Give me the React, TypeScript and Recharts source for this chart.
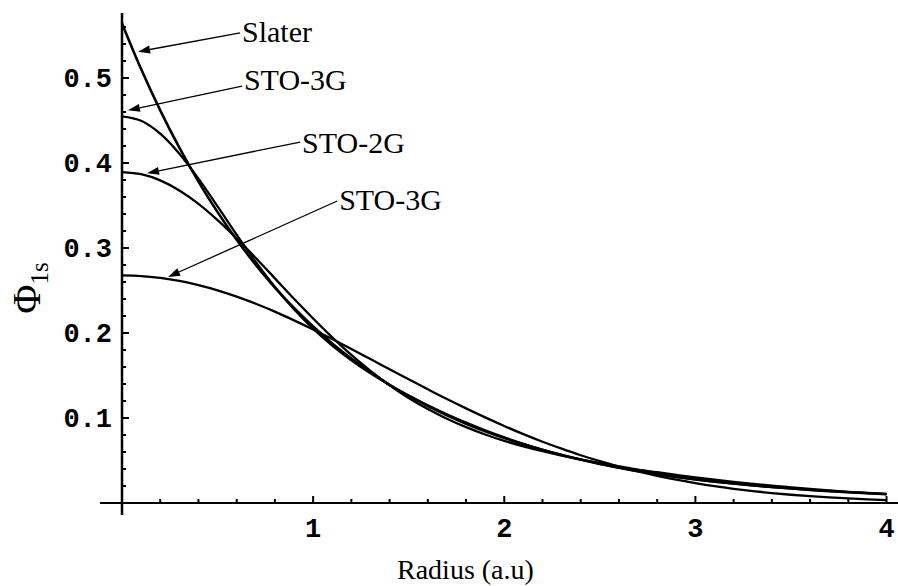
import { LineChart, Line, XAxis, YAxis, ReferenceLine, ReferenceDot } from "recharts"

// radius in a.u., 0.1 step
const radius = [
  0, 0.1, 0.2, 0.3, 0.4, 0.5, 0.6, 0.7, 0.8, 0.9, 1.0, 1.1, 1.2, 1.3, 1.4, 1.5, 1.6, 1.7, 1.8, 1.9, 2.0,
  2.1, 2.2, 2.3, 2.4, 2.5, 2.6, 2.7, 2.8, 2.9, 3.0, 3.1, 3.2, 3.3, 3.4, 3.5, 3.6, 3.7, 3.8, 3.9, 4.0,
]

const slater = [
  0.5642, 0.5105, 0.4619, 0.418, 0.3782, 0.3422, 0.3096, 0.2802, 0.2535, 0.2294, 0.2076, 0.1878, 0.1699,
  0.1538, 0.1391, 0.1259, 0.1139, 0.1031, 0.0933, 0.0844, 0.0764, 0.0691, 0.0625, 0.0566, 0.0512, 0.0463,
  0.0419, 0.0379, 0.0343, 0.031, 0.0281, 0.0254, 0.023, 0.0208, 0.0188, 0.017, 0.0154, 0.0139, 0.0126,
  0.0114, 0.0103,
]

const sto3g = [
  0.455, 0.4497, 0.4345, 0.411, 0.3816, 0.349, 0.3157, 0.2836, 0.2542, 0.228, 0.2051, 0.1852, 0.1679,
  0.1526, 0.1389, 0.1264, 0.115, 0.1044, 0.0946, 0.0856, 0.0773, 0.0697, 0.0628, 0.0565, 0.0509, 0.0458,
  0.0413, 0.0372, 0.0336, 0.0304, 0.0275, 0.025, 0.0227, 0.0206, 0.0188, 0.0171, 0.0156, 0.0142, 0.0129,
  0.0118, 0.0107,
]

const sto2g = [
  0.3894, 0.3869, 0.3796, 0.3677, 0.352, 0.3329, 0.3114, 0.2882, 0.2643, 0.2403, 0.2171, 0.1949, 0.1742,
  0.1554, 0.1386, 0.1236, 0.1105, 0.0991, 0.0892, 0.0806, 0.0731, 0.0667, 0.0609, 0.0557, 0.0511, 0.0469,
  0.0431, 0.0394, 0.0362, 0.0331, 0.0301, 0.0274, 0.0249, 0.0226, 0.0204, 0.0184, 0.0165, 0.0148, 0.0132,
  0.0117, 0.0104,
]

// the lowest curve (labelled "STO-3G" again in the figure)
const sto1g = [
  0.2677, 0.267, 0.2648, 0.2613, 0.2563, 0.2502, 0.2428, 0.2344, 0.2251, 0.2149, 0.2042, 0.1929, 0.1812,
  0.1693, 0.1574, 0.1455, 0.1338, 0.1223, 0.1113, 0.1007, 0.0906, 0.081, 0.0721, 0.0639, 0.0562, 0.0492,
  0.0429, 0.0371, 0.032, 0.0274, 0.0234, 0.0198, 0.0167, 0.014, 0.0117, 0.0097, 0.008, 0.0066, 0.0054,
  0.0043, 0.0035,
]

const xTicks = [
  0.2, 0.4, 0.6, 0.8, 1, 1.2, 1.4, 1.6, 1.8, 2, 2.2, 2.4, 2.6, 2.8, 3, 3.2, 3.4, 3.6, 3.8, 4,
]
const yTicks = [
  0.02, 0.04, 0.06, 0.08, 0.1, 0.12, 0.14, 0.16, 0.18, 0.2, 0.22, 0.24, 0.26, 0.28, 0.3, 0.32, 0.34,
  0.36, 0.38, 0.4, 0.42, 0.44, 0.46, 0.48, 0.5, 0.52, 0.54, 0.56,
]

// callouts, in data units
const calloutText = ["Slater", "STO-3G", "STO-2G", "STO-3G"]
const calloutTextX = [0.628, 0.638, 0.942, 1.136]
const calloutTextY = [0.5424, 0.4859, 0.4118, 0.3447]
const arrowFromX = [0.618, 0.628, 0.932, 1.126]
const arrowFromY = [0.553, 0.4906, 0.4247, 0.3553]
const arrowToX = [0.084, 0.031, 0.131, 0.241]
const arrowToY = [0.531, 0.462, 0.388, 0.266]

const data = radius.map((r, i) => ({
  r,
  slater: slater[i],
  sto3g: sto3g[i],
  sto2g: sto2g[i],
  sto1g: sto1g[i],
}))

const tickFont = "'Liberation Mono', 'DejaVu Sans Mono', monospace"
const serif = "'Liberation Serif', 'Times New Roman', serif"

const isMajor = (v: number, step: number) => Math.abs(v / step - Math.round(v / step)) < 1e-6

function XTick({ x, y, payload }: any) {
  const v = payload.value
  const major = isMajor(v, 1)
  return (
    <g>
      <line x1={x} x2={x} y1={y} y2={y - (major ? 7 : 4)} stroke="#000" strokeWidth={2} />
      {major && (
        <text x={x} y={y + 34} textAnchor="middle" fontFamily={tickFont} fontWeight="bold" fontSize={27} fill="#000">
          {v}
        </text>
      )}
    </g>
  )
}

function YTick({ x, y, payload }: any) {
  const v = payload.value
  const major = isMajor(v, 0.1)
  return (
    <g>
      <line x1={x} x2={x + (major ? 7 : 4)} y1={y} y2={y} stroke="#000" strokeWidth={2} />
      {major && (
        <text x={x - 10} y={y + 9} textAnchor="end" fontFamily={tickFont} fontWeight="bold" fontSize={27} fill="#000">
          {v.toFixed(1)}
        </text>
      )}
    </g>
  )
}

function Arrow({ x1, y1, x2, y2 }: any) {
  const dx = x2 - x1
  const dy = y2 - y1
  const len = Math.hypot(dx, dy) || 1
  const ux = dx / len
  const uy = dy / len
  const hl = 12
  const hw = 4
  const bx = x2 - ux * hl
  const by = y2 - uy * hl
  const pts = `${x2},${y2} ${bx - uy * hw},${by + ux * hw} ${bx + uy * hw},${by - ux * hw}`
  return (
    <g>
      <line x1={x1} y1={y1} x2={bx} y2={by} stroke="#000" strokeWidth={1.3} />
      <polygon points={pts} fill="#000" />
    </g>
  )
}

function XTitle({ viewBox }: any) {
  return (
    <text x={viewBox.x + 275} y={viewBox.y + 76} fontFamily={serif} fontSize={28} fill="#000">
      Radius (a.u)
    </text>
  )
}

function YTitle() {
  return (
    <text transform="translate(40,288) rotate(-90)" textAnchor="middle" fontFamily={serif} fill="#000">
      <tspan fontSize={40}>Φ</tspan>
      <tspan fontSize={25} dy={8}>1s</tspan>
    </text>
  )
}

export default function App() {
  return (
    <div style={{ position: "absolute", left: 0, top: 0, width: 898, height: 586, background: "#fff" }}>
      <LineChart width={898} height={586} data={data} margin={{ top: 13, right: 0, left: 0, bottom: 0 }}>
        <XAxis
          dataKey="r"
          type="number"
          domain={[0, 4.06]}
          ticks={xTicks}
          interval={0}
          height={83}
          axisLine={false}
          tickLine={false}
          tickSize={0}
          tickMargin={0}
          tick={<XTick />}
          label={<XTitle />}
        />
        <YAxis
          type="number"
          domain={[0, 0.5765]}
          ticks={yTicks}
          interval={0}
          width={122}
          axisLine={false}
          tickLine={false}
          tickSize={0}
          tickMargin={0}
          tick={<YTick />}
          label={<YTitle />}
        />
        <ReferenceLine
          segment={[{ x: -0.115, y: 0 }, { x: 4.06, y: 0 }]}
          ifOverflow="visible"
          stroke="#000"
          strokeWidth={2}
        />
        <ReferenceLine
          segment={[{ x: 0, y: -0.0141 }, { x: 0, y: 0.5765 }]}
          ifOverflow="visible"
          stroke="#000"
          strokeWidth={2.5}
        />
        <Line dataKey="slater" type="monotone" stroke="#000" strokeWidth={2.6} dot={false} activeDot={false} isAnimationActive={false} />
        <Line dataKey="sto3g" type="monotone" stroke="#000" strokeWidth={2.3} dot={false} activeDot={false} isAnimationActive={false} />
        <Line dataKey="sto2g" type="monotone" stroke="#000" strokeWidth={2.3} dot={false} activeDot={false} isAnimationActive={false} />
        <Line dataKey="sto1g" type="monotone" stroke="#000" strokeWidth={2.3} dot={false} activeDot={false} isAnimationActive={false} />
        {calloutText.map((t, i) => (
          <ReferenceLine
            key={`a${i}`}
            segment={[{ x: arrowFromX[i], y: arrowFromY[i] }, { x: arrowToX[i], y: arrowToY[i] }]}
            ifOverflow="visible"
            shape={<Arrow />}
          />
        ))}
        {calloutText.map((t, i) => (
          <ReferenceDot
            key={`t${i}`}
            x={calloutTextX[i]}
            y={calloutTextY[i]}
            r={0}
            ifOverflow="visible"
            shape={(p: any) => (
              <text x={p.cx} y={p.cy} fontFamily={serif} fontSize={30} fill="#000">
                {t}
              </text>
            )}
          />
        ))}
      </LineChart>
    </div>
  )
}
